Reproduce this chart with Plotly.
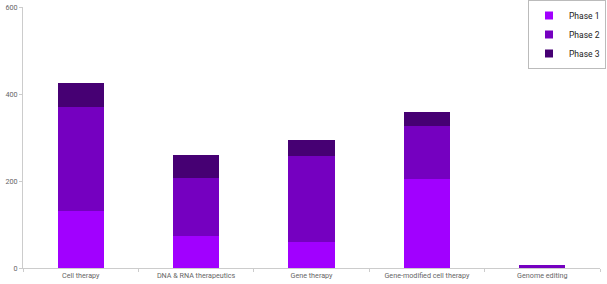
import plotly.graph_objects as go

categories = ["Cell therapy", "DNA & RNA therapeutics", "Gene therapy", "Gene-modified cell therapy", "Genome editing"]
phase1 = [131, 74, 60, 205, 1]
phase2 = [239, 133, 198, 121, 5]
phase3 = [55, 53, 36, 33, 0]
series_names = ["Phase 1", "Phase 2", "Phase 3"]
colors = ["#a100ff", "#7500c0", "#460073"]
y_ticks = [0, 200, 400, 600]

fig = go.Figure()
for name, vals, c in zip(series_names, [phase1, phase2, phase3], colors):
    fig.add_trace(go.Bar(x=categories, y=vals, name=name, marker_color=c,
                         marker_line_width=0, width=0.4, showlegend=False))
# legend entries with small square markers
for name, c in zip(series_names, colors):
    fig.add_trace(go.Scatter(x=[None], y=[None], mode="markers", name=name,
                             marker=dict(symbol="square", size=8, color=c)))

fig.update_layout(
    barmode="stack",
    width=607, height=284,
    margin=dict(l=23, r=7, t=7, b=16, autoexpand=False),
    paper_bgcolor="white", plot_bgcolor="white",
    font=dict(family="Roboto, sans-serif", size=7.2, color="#666666"),
    showlegend=True,
    legend=dict(xref="container", yref="container", x=606/607, xanchor="right", y=1, yanchor="top",
                bordercolor="#bbbbbb", borderwidth=1, bgcolor="white",
                font=dict(size=8.5, color="#222222"), itemwidth=30,
                traceorder="normal", tracegroupgap=0),
    xaxis=dict(showline=True, linecolor="#cccccc", linewidth=1, automargin=False,
               ticks="outside", tickson="boundaries", ticklen=3, tickcolor="#cccccc",
               showgrid=False),
    yaxis=dict(range=[0, 600], tickvals=y_ticks, showline=True, linecolor="#cccccc",
               linewidth=1, ticks="outside", ticklen=3, tickcolor="#cccccc", automargin=False,
               showgrid=False, zeroline=False),
)
fig.write_html("out.html")
